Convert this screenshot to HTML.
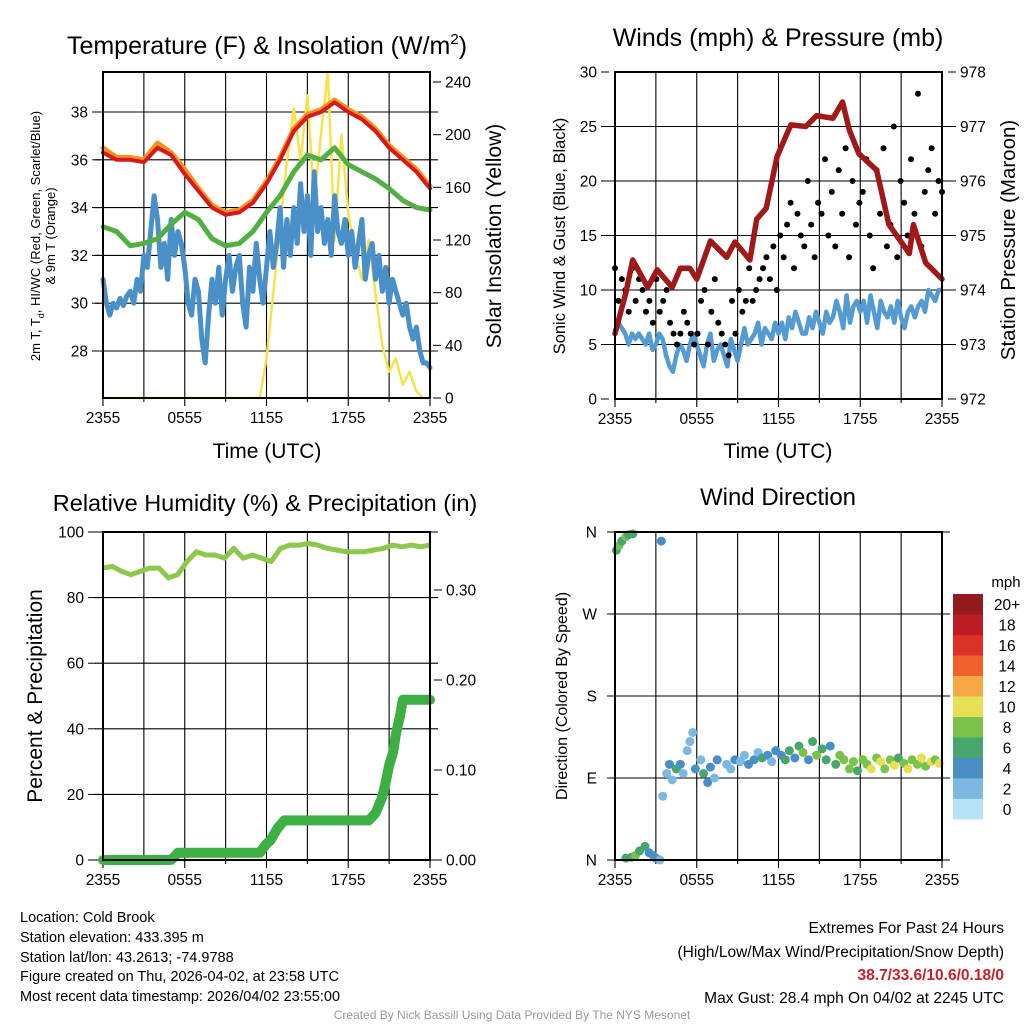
<!DOCTYPE html>
<html><head><meta charset="utf-8"><style>
body{margin:0;background:#fff}
svg{display:block}
text{font-family:"Liberation Sans",Arial,sans-serif;fill:#000}
</style></head><body>
<svg id="fig" width="1024" height="1024" viewBox="0 0 1024 1024" xmlns="http://www.w3.org/2000/svg">
<rect width="1024" height="1024" fill="#fff"/>
<g id="p1"></g>
<g id="p2"></g>
<g id="p3"></g>
<g id="p4"></g>
<g font-size="14.5">
<text x="20" y="922">Location: Cold Brook</text>
<text x="20" y="942">Station elevation: 433.395 m</text>
<text x="20" y="962">Station lat/lon: 43.2613; -74.9788</text>
<text x="20" y="981">Figure created on Thu, 2026-04-02, at 23:58 UTC</text>
<text x="20" y="1001">Most recent data timestamp: 2026/04/02 23:55:00</text>
</g>
<g text-anchor="end" font-size="15.5">
<text x="1004" y="933">Extremes For Past 24 Hours</text>
<text x="1004" y="957">(High/Low/Max Wind/Precipitation/Snow Depth)</text>
<text x="1004" y="980" fill="#c8202a" style="fill:#c8202a;font-weight:bold">38.7/33.6/10.6/0.18/0</text>
<text x="1004" y="1003">Max Gust: 28.4 mph On 04/02 at 2245 UTC</text>
</g>
<text x="512" y="1019" text-anchor="middle" font-size="12" style="fill:#999">Created By Nick Bassill Using Data Provided By The NYS Mesonet</text>
</svg>
<script>
// ---- Panel 1 data (evenly spaced over 24 h) ----
const tempRed=[36.3,36.0,36.0,35.9,36.5,36.2,35.4,34.7,34.0,33.7,33.8,34.2,35.0,36.0,37.2,37.8,38.0,38.4,38.0,37.7,37.2,36.5,36.0,35.5,34.8];
const tempOrange=[36.5,36.1,36.1,36.0,36.7,36.3,35.6,34.8,34.1,33.8,33.9,34.3,35.1,36.1,37.3,37.9,38.1,38.5,38.1,37.8,37.3,36.6,36.1,35.6,34.9];
const dewGreen=[33.2,33.0,32.4,32.5,32.7,33.3,33.8,33.5,32.7,32.4,32.5,33.0,33.8,34.5,35.5,36.2,36.0,36.5,35.8,35.5,35.2,34.8,34.3,34.0,33.9];
const chillBlue=[31,30,29.5,30,29.8,30.2,29.9,30.3,30.5,30,31,30.5,32,31.5,33,34.5,33.5,31.5,32.5,31,33.5,32,33,32.5,31.5,30,29.5,31,30.5,28.5,27.5,29.5,31,30,31.5,29.5,31,32,30.5,31.5,32,30,29,31.5,30.5,32.5,31,30,31.5,33,31.5,32.5,34,31.5,33.5,32,34,32.5,35,33,34.5,32,35.5,33,34,32.5,33.5,32,34.5,33,32.5,33.5,32,33,31.5,32.5,33.5,31,32,32.5,31,32,30.5,31.5,30,31,30.5,30,29.5,30,29,28.5,29,28,27.5,27.5,27.3];
const solar=[0,0,0,0,0,0,0,0,0,0,0,0,0,0,0,0,0,0,0,0,0,0,0,0,30,80,130,180,220,180,230,150,200,248,120,200,140,110,90,120,80,40,20,30,10,20,5,0,0];
// ---- Panel 2 data ----
const pressTime=[0,0.8,1.3,2.4,3.1,4.2,4.8,5.5,6,7,8.2,8.8,9.9,10.4,11.1,11.9,12.9,14,14.8,16,16.7,17.2,17.9,19.2,20.1,21.6,21.9,22.8,24];
const pressVal=[973.2,973.95,974.55,974.05,974.37,974.05,974.4,974.4,974.2,974.9,974.6,974.88,974.55,975.3,975.5,976.45,977.03,977.0,977.2,977.15,977.45,976.93,976.5,976.2,975.2,974.67,975.2,974.5,974.2];
const windBlue=[6,7,6.5,6,5,6,5.5,6,5.5,5,6,4.5,5,6,5.5,4,3,2.5,4,5,4.5,3.5,5,6,5,4,3,5,6,3.5,4.5,5,4,3,5.5,4.5,3.5,5,6.5,5,5.5,6,7,5,6.5,6,5.5,7,6,7,5.5,7.5,6.5,8,7,6,6,7.5,6.5,8,7,6,8,7,7.5,9,8,6.5,9.5,7,8.5,9,8,9,7,9.5,8,6.5,9,8,7.5,8.5,7,9,7.5,6.5,8,8.5,7.5,8.5,9,8,10,9.5,9,10,10];
const gust=[12,9,11,10,8,12,9,11,10,8,9,7,11,8,9,10,7,6,5,6,8,7,6,5,6,9,10,5,8,11,7,6,5,4,9,6,10,8,9,12,9,10,11,12,13,11,14,10,15,13,16,18,12,17,15,14,20,16,13,18,17,22,15,19,14,21,17,23,13,20,16,18,19,22,15,12,21,17,23,14,16,25,13,20,18,15,22,17,28,14,19,21,23,17,20,19];
// ---- Panel 3 data ----
const rhVal=[89,89.5,88,87,88,89,89,86,87,91,94,93,93,92,95,92,93,92,91,95,96,96,96.5,96,95,94.5,94,94,94,94.5,95,96,95.5,96,95.5,96];
const precipTime=[0,5,5.5,11.5,12,12.3,12.8,13.3,19.5,20,20.5,20.8,21.0,21.3,21.5,21.8,22,24];
const precipVal=[0,0,0.008,0.008,0.018,0.022,0.035,0.044,0.044,0.052,0.07,0.09,0.105,0.12,0.14,0.16,0.178,0.178];
// ---- Panel 4 data ----
const dirTime=[0.1,0.3,0.5,0.8,1.0,1.3,3.4,0.8,1.2,1.5,1.8,2.2,2.5,2.8,3.0,3.3,3.5,3.8,4.0,4.2,4.5,4.8,5.0,5.3,5.5,5.7,5.9,6.3,6.5,6.8,7.0,7.3,7.5,8.2,8.5,8.8,9.2,9.5,9.8,10.2,10.5,10.8,11.2,11.5,11.8,12.2,12.5,12.8,13.2,13.5,13.8,14.2,14.5,14.8,15.2,15.5,15.8,16.2,16.5,16.8,17.2,17.5,17.8,18.2,18.5,18.8,19.2,19.5,19.8,20.2,20.5,20.8,21.2,21.5,21.8,22.2,22.5,22.8,23.2,23.5,23.8];
const dirDeg=[340,345,350,355,357,358,350,2,3,5,10,15,8,5,2,0,70,95,105,88,100,105,95,120,130,140,100,110,95,85,102,90,110,105,100,110,108,115,105,110,118,112,115,108,120,115,110,120,112,125,118,110,130,115,122,110,125,105,115,110,100,108,98,110,105,100,112,108,100,110,104,112,106,100,110,105,112,103,108,110,106];
const dirSpd=[7,8,7,8,7,6,4,6,7,8,7,7,5,4,4,3,2,2,4,3,6,4,3,2,2,3,4,3,6,4,5,3,5,2,3,4,2,3,5,4,3,6,4,3,5,4,6,7,5,7,8,4,6,8,6,7,5,7,9,8,8,9,7,8,9,10,8,11,9,8,10,7,9,10,8,9,10,9,10,9,10];
const speedColors=["#b7e3f7","#7db8e3","#4a8ec6","#47a56e","#7bc24b","#e7e057","#f6a845","#ef612b","#dc3226","#bd1c24","#931a1d"];
const speedLabels=["0","2","4","6","8","10","12","14","16","18","20+"];
const xTickLabels=["2355","0555","1155","1755","2355"];
const t1Ticks=[28,30,32,34,36,38];const s1Ticks=[0,40,80,120,160,200,240];
const w2Ticks=[0,5,10,15,20,25,30];const p2Ticks=[972,973,974,975,976,977,978];
const rhTicks=[0,20,40,60,80,100];const prTicks=[0,0.1,0.2,0.3];
const dirTicks=["N","E","S","W","N"];

const NS="http://www.w3.org/2000/svg";
function mk(parent,tag,attrs,txt){const e=document.createElementNS(NS,tag);for(const k in attrs)e.setAttribute(k,attrs[k]);if(txt!==undefined)e.textContent=txt;parent.appendChild(e);return e;}
function lin(d0,d1,r0,r1){return v=>r0+(v-d0)/(d1-d0)*(r1-r0);}
function path(xs,ys){return xs.map((x,i)=>(i?'L':'M')+x.toFixed(1)+' '+ys[i].toFixed(1)).join('');}
function idxT(arr){return arr.map((_,i)=>i*24/(arr.length-1));}
const TF=15.5, TITLE=25, AX=21;
function frame(g,L,R,T,B,xs,hGrid){
  for(let h=0;h<=24;h+=3){const x=xs(h);const l=mk(g,'line',{x1:x,x2:x,y1:T,y2:B+(h%6?4:8),stroke:'#000','stroke-width':1.1});
  
  }
  hGrid.forEach(y=>{const l=mk(g,'line',{x1:L-8,x2:R+8,y1:y,y2:y,stroke:'#000','stroke-width':1.1});
  
  });
  xTickLabels.forEach((s,i)=>{const t=mk(g,'text',{x:xs(i*6),y:B+25,'text-anchor':'middle','font-size':TF},s);
  
  });
}
function border(g,L,R,T,B){const r=mk(g,'rect',{x:L,y:T,width:R-L,height:B-T,fill:'none',stroke:'#000','stroke-width':2});

}
function ticks(g,vals,ys,x,anchor,fmt){vals.forEach(v=>{const y=ys(v);const t=mk(g,'text',{x:x,y:y+5.5,'text-anchor':anchor,'font-size':TF},fmt(v));


const dx=anchor==='end'?x+4:x-12;const tk=mk(g,'line',{x1:dx,x2:dx+8,y1:y,y2:y,stroke:'#000','stroke-width':1});

});}
function label(g,x,y,s,size,rot,name){const t=mk(g,'text',{x:x,y:y,'text-anchor':'middle','font-size':size,transform:rot?`rotate(-90 ${x} ${y})`:''},s);

return t;}

// ===== Panel 1 =====
(function(){const g=document.getElementById('p1');const L=103,R=430,T=72,B=398;
const xs=lin(0,24,L,R),yT=lin(28,38,351,112),yS=lin(0,240,398,82);
frame(g,L,R,T,B,xs,t1Ticks.map(yT));
function line(vals,ts,ys,col,w,name){const p=mk(g,'path',{d:path(ts.map(xs),vals.map(ys)),fill:'none',stroke:col,'stroke-width':w,'stroke-linejoin':'round','stroke-linecap':'round'});

}
line(solar,idxT(solar),yS,'#f7e24a',2.5,'solar-insolation-line');
line(chillBlue,idxT(chillBlue),yT,'#4a90c8',5,'wind-chill-line');
line(dewGreen,idxT(dewGreen),yT,'#52b043',5,'dewpoint-line');
line(tempOrange,idxT(tempOrange),yT,'#f6921e',5,'temp-9m-line');
line(tempRed,idxT(tempRed),yT,'#d7191c',4,'temp-2m-line');
border(g,L,R,T,B);
ticks(g,t1Ticks,yT,88,'end',v=>v);ticks(g,s1Ticks,yS,445,'start',v=>v);
const t=label(g,267,54,'',TITLE,false,'temperature-title');t.innerHTML='Temperature (F) &amp; Insolation (W/m<tspan dy="-10" font-size="15">2</tspan><tspan dy="10">)</tspan>';
label(g,267,458,'Time (UTC)',AX,false,'x-axis-title');
const a=label(g,40,236,'',13,true,'temp-y-axis-title');a.innerHTML='2m T, T<tspan dy="4" font-size="9">d</tspan><tspan dy="-4">, HI/WC (Red, Green, Scarlet/Blue)</tspan>';
label(g,55,236,'& 9m T (Orange)',13,true,'temp-y-axis-title-2');
label(g,501,236,'Solar Insolation (Yellow)',21,true,'solar-y-axis-title');
})();

// ===== Panel 2 =====
(function(){const g=document.getElementById('p2');const L=615,R=942,T=72,B=399;
const xs=lin(0,24,L,R),yW=lin(0,30,399,72),yP=lin(972,978,399,72);
frame(g,L,R,T,B,xs,w2Ticks.slice(1,6).map(yW));
const bt=idxT(windBlue);const bp=mk(g,'path',{d:path(bt.map(xs),windBlue.map(yW)),fill:'none',stroke:'#559bd3','stroke-width':4.5,'stroke-linejoin':'round'});


const gt=idxT(gust);gust.forEach((v,i)=>{const c=mk(g,'circle',{cx:xs(gt[i]),cy:yW(v),r:3,fill:'#000'});

});
const pp=mk(g,'path',{d:path(pressTime.map(xs),pressVal.map(yP)),fill:'none',stroke:'#a01818','stroke-width':5.5,'stroke-linejoin':'round','stroke-linecap':'round'});


border(g,L,R,T,B);
ticks(g,w2Ticks,yW,597,'end',v=>v);ticks(g,p2Ticks,yP,960,'start',v=>v);
label(g,778,46,'Winds (mph) & Pressure (mb)',TITLE,false,'winds-title');
label(g,778,458,'Time (UTC)',AX,false,'x-axis-title');
label(g,565,236,'Sonic Wind & Gust (Blue, Black)',16.5,true,'wind-y-axis-title');
label(g,1015,240,'Station Pressure (Maroon)',20.5,true,'pressure-y-axis-title');
})();

// ===== Panel 3 =====
(function(){const g=document.getElementById('p3');const L=103,R=430,T=532,B=860;
const xs=lin(0,24,L,R),yR=lin(0,100,860,532),yPr=lin(0,0.1,860,770);
frame(g,L,R,T,B,xs,rhTicks.map(yR));
const rt=idxT(rhVal);const rp=mk(g,'path',{d:path(rt.map(xs),rhVal.map(yR)),fill:'none',stroke:'#8cc84b','stroke-width':5,'stroke-linejoin':'round'});


const pp=mk(g,'path',{d:path(precipTime.map(xs),precipVal.map(yPr)),fill:'none',stroke:'#3cb043','stroke-width':10,'stroke-linejoin':'round','stroke-linecap':'round'});


border(g,L,R,T,B);
ticks(g,rhTicks,yR,84,'end',v=>v);ticks(g,prTicks,yPr,446,'start',v=>v.toFixed(2));
label(g,265,511,'Relative Humidity (%) & Precipitation (in)',23.5,false,'humidity-title');
label(g,42,696,'Percent & Precipitation',21,true,'humidity-y-axis-title');
})();

// ===== Panel 4 =====
(function(){const g=document.getElementById('p4');const L=615,R=942,T=532,B=860;
const xs=lin(0,24,L,R),yD=lin(0,360,860,532);
frame(g,L,R,T,B,xs,[0,90,180,270,360].map(yD));
dirTime.forEach((h,i)=>{const c=mk(g,'circle',{cx:xs(h),cy:yD(dirDeg[i]),r:4.5,fill:speedColors[Math.min(10,Math.floor(dirSpd[i]/2))]});

});
border(g,L,R,T,B);
dirTicks.forEach((s,i)=>{const t=mk(g,'text',{x:597,y:yD(i*90)+5.5,'text-anchor':'end','font-size':TF},s);

});
label(g,778,505,'Wind Direction',TITLE-1,false,'wind-direction-title');
label(g,567,696,'Direction (Colored By Speed)',16,true,'direction-y-axis-title');
const bh=20.5,top=594;
speedColors.forEach((c,i)=>{const k=10-i;const r=mk(g,'rect',{x:953,y:top+k*bh,width:30,height:bh,fill:c});


const t=mk(g,'text',{x:1007,y:top+k*bh+bh/2+5.5,'text-anchor':'middle','font-size':TF},speedLabels[i]);

});
label(g,1006,587,'mph',15,false,'colorbar-title');
})();
</script>
</body></html>
